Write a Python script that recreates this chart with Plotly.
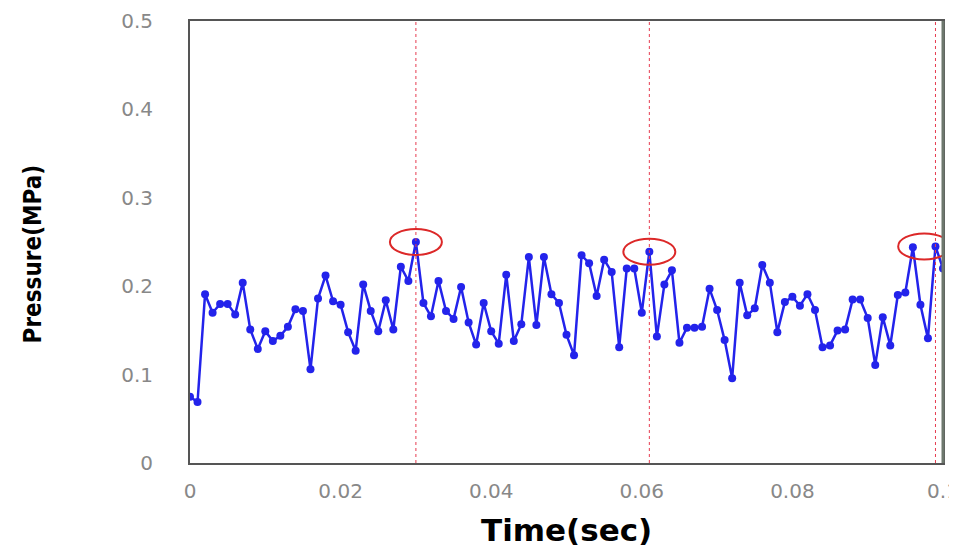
import plotly.graph_objects as go

# time step 0.001 s, 101 samples
time_s = [round(i * 0.001, 3) for i in range(101)]
pressure_mpa = [
    0.075, 0.069, 0.191, 0.170, 0.180, 0.180, 0.168, 0.204, 0.151, 0.129,
    0.149, 0.138, 0.144, 0.154, 0.174, 0.172, 0.106, 0.186, 0.212, 0.183,
    0.179, 0.148, 0.127, 0.202, 0.172, 0.149, 0.184, 0.151, 0.222, 0.206,
    0.250, 0.181, 0.166, 0.206, 0.172, 0.163, 0.199, 0.159, 0.134, 0.181,
    0.149, 0.135, 0.213, 0.138, 0.157, 0.233, 0.156, 0.233, 0.191, 0.181,
    0.145, 0.122, 0.235, 0.226, 0.189, 0.230, 0.216, 0.131, 0.220, 0.220,
    0.170, 0.239, 0.143, 0.202, 0.218, 0.136, 0.153, 0.153, 0.154, 0.197,
    0.173, 0.139, 0.096, 0.204, 0.167, 0.175, 0.224, 0.204, 0.148, 0.182,
    0.188, 0.178, 0.191, 0.173, 0.131, 0.133, 0.150, 0.151, 0.185, 0.185,
    0.164, 0.111, 0.165, 0.133, 0.190, 0.193, 0.244, 0.179, 0.141, 0.245,
    0.220,
]
peak_index = [30, 61, 99]
circle_groups = [[30], [61], [96, 99]]
x_ticks = [0, 0.02, 0.04, 0.06, 0.08, 0.1]
x_tick_text = ["0", "0.02", "0.04", "0.06", "0.08", "0.1"]
y_ticks = [0, 0.1, 0.2, 0.3, 0.4, 0.5]
y_tick_text = ["0", "0.1", "0.2", "0.3", "0.4", "0.5"]

fig = go.Figure()
fig.add_trace(go.Scatter(
    x=time_s, y=pressure_mpa, mode="lines+markers",
    line=dict(color="rgb(35,35,235)", width=2.5),
    marker=dict(color="rgb(35,35,235)", size=8),
    showlegend=False,
))

for i in peak_index:
    fig.add_shape(type="line", xref="x", yref="y",
                  x0=time_s[i], x1=time_s[i], y0=0, y1=0.5,
                  line=dict(color="rgb(230,60,80)", width=1, dash="dot"))

for grp in circle_groups:
    cx = sum(time_s[i] for i in grp) / len(grp)
    cy = max(pressure_mpa[i] for i in grp)
    fig.add_shape(type="circle", xref="x", yref="y",
                  xsizemode="pixel", ysizemode="pixel",
                  xanchor=cx, yanchor=cy,
                  x0=-26, x1=26, y0=-13, y1=13,
                  line=dict(color="rgb(220,40,40)", width=2))

# right border (thicker greyish)
fig.add_shape(type="line", xref="paper", yref="paper", x0=1, x1=1, y0=0, y1=1,
              line=dict(color="rgb(110,120,110)", width=3))

tick_font = dict(family="DejaVu Sans", size=20, color="#888888")
fig.update_layout(
    width=949, height=542,
    margin=dict(l=182, r=14, t=13, b=87),
    plot_bgcolor="white", paper_bgcolor="white",
    xaxis=dict(range=[0, 0.1], tickvals=x_ticks, ticktext=x_tick_text,
               showgrid=False, zeroline=False, showline=True, mirror=True,
               linecolor="#555555", linewidth=2, ticks="", tickfont=tick_font,
               ticklabelstandoff=9, ticklabeloverflow="allow", automargin=False),
    yaxis=dict(range=[0, 0.5], tickvals=y_ticks, ticktext=y_tick_text,
               showgrid=False, zeroline=False, showline=True, mirror=True,
               linecolor="#555555", linewidth=2, ticks="", tickfont=tick_font,
               ticklabelstandoff=31, ticklabeloverflow="allow", automargin=False),
)
fig.add_annotation(text="<b>Time(sec)</b>", xref="paper", yref="paper",
                   x=0.5, y=-0.194, showarrow=False, borderpad=0,
                   xanchor="center", yanchor="bottom",
                   font=dict(family="DejaVu Sans", size=31, color="black"))
fig.add_annotation(text="<b>Pressure(MPa)</b>", xref="paper", yref="paper",
                   x=-0.2085, y=0.472, textangle=-90, showarrow=False,
                   xanchor="center", yanchor="middle",
                   font=dict(family="DejaVu Sans Condensed", size=24, color="black"))

fig.write_html("out.html")
